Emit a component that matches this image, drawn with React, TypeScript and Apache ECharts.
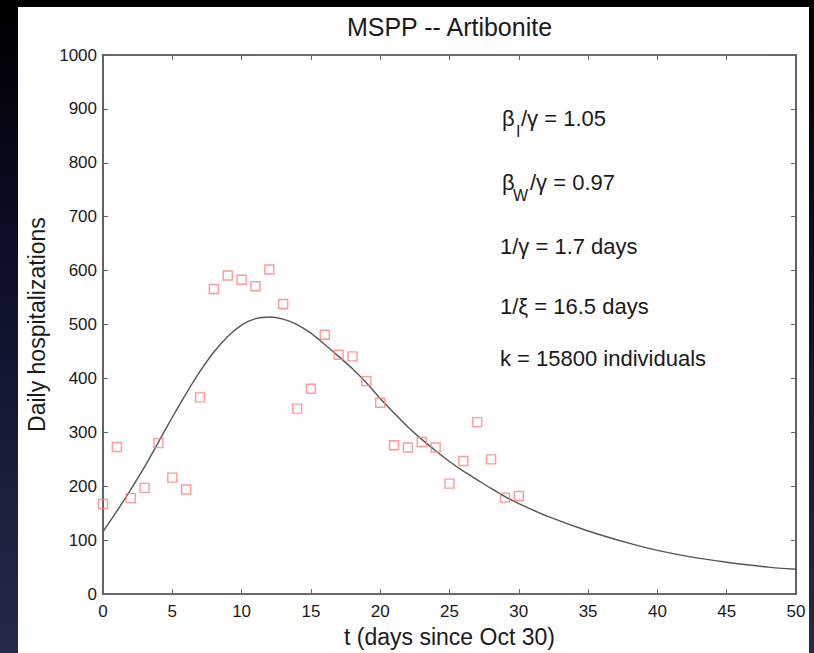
import React, { useEffect, useRef } from "react";
import * as echarts from "echarts";

// Observed daily hospitalizations (MSPP, Artibonite), day index since Oct 30
const obsDays = [0, 1, 2, 3, 4, 5, 6, 7, 8, 9, 10, 11, 12, 13, 14, 15, 16, 17, 18, 19, 20, 21, 22, 23, 24, 25, 26, 27, 28, 29, 30];
const obsHosp = [167, 273, 178, 197, 280, 216, 194, 365, 566, 591, 583, 571, 602, 538, 344, 381, 481, 444, 441, 395, 355, 276, 272, 282, 272, 205, 247, 319, 250, 179, 182];

// Model fit curve
const fitDays = [0, 1, 2, 3, 4, 5, 6, 7, 8, 9, 10, 11, 12, 13, 14, 15, 16, 17, 18, 19, 20, 21, 22, 23, 24, 25, 26, 27, 28, 29, 30, 32, 35, 38, 40, 42, 45, 48, 50];
const fitVals = [116, 154, 194, 236, 282, 328, 372, 413, 449, 478, 499, 511, 514, 510, 500, 484, 463, 441, 418, 392, 363, 336, 310, 287, 266, 246, 228, 212, 196, 181, 168, 145, 117, 94, 81, 71, 59, 50, 46];

const yTickLabels = ["0", "100", "200", "300", "400", "500", "600", "700", "800", "900", "1000"];

const titleText = "MSPP -- Artibonite";
const xName = "t (days since Oct 30)";
const yName = "Daily hospitalizations";

const FONT = "'Liberation Sans', Arial, Helvetica, sans-serif";

export default function App() {
  const ref = useRef<HTMLDivElement>(null);

  useEffect(() => {
    if (!ref.current) return;
    const chart = echarts.init(ref.current, undefined, { renderer: "svg" });

    const axisLine = { show: true, onZero: false, lineStyle: { color: "#3a3a3a", width: 1.6 } };
    const axisTick = { show: true, inside: true, length: 5, lineStyle: { color: "#666", width: 1 } };
    const textColor = "#1a1a1a";

    const ann = (x: number, y: number, text: string, size = 22) => ({
      type: "text",
      x,
      y,
      silent: true,
      style: { text, fontSize: size, fontFamily: FONT, fill: textColor, textAlign: "left", textVerticalAlign: "middle" },
    });

    const option: any = {
      animation: false,
      title: {
        text: titleText,
        left: 449.5,
        top: 14,
        padding: 0,
        textAlign: "center",
        textStyle: { fontSize: 25, fontWeight: "normal", color: textColor, fontFamily: FONT },
      },
      grid: { left: 103, right: 18, top: 55, bottom: 53, containLabel: false },
      xAxis: [
        {
          type: "value",
          min: 0,
          max: 50,
          interval: 5,
          position: "bottom",
          axisLine,
          axisTick,
          splitLine: { show: false },
          axisLabel: { fontSize: 17, color: textColor, fontFamily: FONT, margin: 9 },
          name: xName,
          nameLocation: "middle",
          nameGap: 28,
          nameTextStyle: { fontSize: 23, color: textColor, fontFamily: FONT, verticalAlign: "top" },
        },
        {
          type: "value",
          min: 0,
          max: 50,
          interval: 5,
          position: "top",
          axisLine,
          axisTick,
          splitLine: { show: false },
          axisLabel: { show: false },
        },
      ],
      yAxis: [
        {
          type: "value",
          min: 0,
          max: 1000,
          interval: 100,
          position: "left",
          axisLine,
          axisTick,
          splitLine: { show: false },
          axisLabel: {
            fontSize: 17,
            color: textColor,
            fontFamily: FONT,
            margin: 6,
            formatter: (v: number) => yTickLabels[Math.round(v / 100)] ?? String(v),
          },
          name: yName,
          nameLocation: "middle",
          nameGap: 51,
          nameTextStyle: { fontSize: 23, color: textColor, fontFamily: FONT },
        },
        {
          type: "value",
          min: 0,
          max: 1000,
          interval: 100,
          position: "right",
          axisLine,
          axisTick,
          splitLine: { show: false },
          axisLabel: { show: false },
        },
      ],
      series: [
        {
          type: "line",
          name: "model",
          data: fitDays.map((d, i) => [d, fitVals[i]]),
          smooth: 0.25,
          showSymbol: false,
          lineStyle: { color: "#555", width: 1.4 },
          z: 2,
        },
        {
          type: "scatter",
          name: "MSPP",
          data: obsDays.map((d, i) => [d, obsHosp[i]]),
          symbol: "rect",
          symbolSize: 9,
          itemStyle: { color: "rgba(255,255,255,0)", borderColor: "#ff8080", borderWidth: 1.4 },
          z: 3,
        },
      ],
      graphic: [
        ann(502, 118, "β"),
        ann(516, 131, "I", 16),
        ann(521, 118, "/γ = 1.05"),
        ann(502, 182, "β"),
        ann(513, 195, "W", 16),
        ann(530, 182, "/γ = 0.97"),
        ann(500, 246, "1/γ = 1.7 days"),
        ann(500, 306, "1/ξ = 16.5 days"),
        ann(500, 358, "k = 15800 individuals"),
      ],
    };

    chart.setOption(option);
    return () => chart.dispose();
  }, []);

  return (
    <div
      style={{
        position: "fixed",
        left: 0,
        top: 0,
        width: 814,
        height: 653,
        overflow: "hidden",
        background: "linear-gradient(to bottom, #000000 0%, #0b0d24 35%, #262a4a 100%)",
      }}
    >
      <div style={{ position: "absolute", left: 18, top: 7, width: 791, height: 646, background: "#ffffff" }} />
      <div ref={ref} style={{ position: "absolute", left: 0, top: 0, width: 814, height: 653 }} />
    </div>
  );
}
